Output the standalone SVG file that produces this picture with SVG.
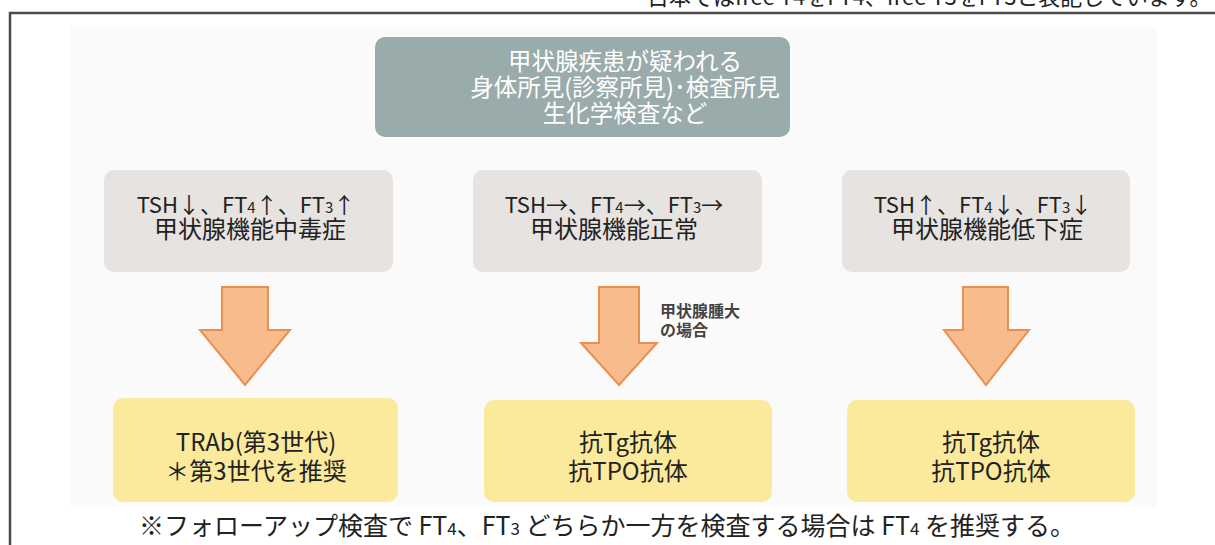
<svg xmlns="http://www.w3.org/2000/svg" width="1215" height="545" viewBox="0 0 1215 545">
<style>
text{font-family:"Noto Sans CJK JP","Noto Sans",sans-serif;}
.top{fill:#9aabab;}
.mid{fill:#e6e3e1;}
.bot{fill:#fbe99c;}
.tw{fill:#ffffff;font-size:23.5px;text-anchor:middle;}
.tk1{fill:#222222;font-size:22px;text-anchor:middle;}
.tk{fill:#222222;font-size:24px;text-anchor:middle;}
.tb{fill:#222222;font-size:24px;text-anchor:middle;}
.sub{font-size:15px;}
.arr{fill:#f8bb8c;stroke:#ea8f52;stroke-width:2;stroke-linejoin:miter;}
</style>
<rect x="0" y="0" width="1215" height="545" fill="#ffffff"/>
<text x="625" y="5" style="font-size:22px;fill:#222">・日本ではfree T4をFT4、free T3をFT3と表記しています。</text>
<path d="M10,545 V13 H1215" fill="none" stroke="#4a4a4a" stroke-width="2.5"/>
<rect x="70" y="27" width="1087" height="480" fill="#fafafa"/>
<g id="node-top">
<rect class="top" x="375" y="37" width="415" height="100" rx="10"/>
<text class="tw" x="625" y="70">甲状腺疾患が疑われる</text>
<text class="tw" x="625" y="96">身体所見(診察所見)･検査所見</text>
<text class="tw" x="625" y="122">生化学検査など</text>
</g>
<g id="node-hyper">
<rect class="mid" x="104" y="170" width="289" height="102" rx="10"/>
<text class="tk1" x="246" y="213">TSH↓、FT<tspan class="sub">4</tspan>↑、FT<tspan class="sub">3</tspan>↑</text>
<text class="tk" x="250" y="238">甲状腺機能中毒症</text>
</g>
<g id="node-normal">
<rect class="mid" x="473" y="170" width="289" height="102" rx="10"/>
<text class="tk1" x="614" y="213">TSH→、FT<tspan class="sub">4</tspan>→、FT<tspan class="sub">3</tspan>→</text>
<text class="tk" x="614" y="238">甲状腺機能正常</text>
</g>
<g id="node-hypo">
<rect class="mid" x="842" y="170" width="288" height="102" rx="10"/>
<text class="tk1" x="983" y="213">TSH↑、FT<tspan class="sub">4</tspan>↓、FT<tspan class="sub">3</tspan>↓</text>
<text class="tk" x="987" y="238">甲状腺機能低下症</text>
</g>
<g id="connectors">
<path class="arr" d="M222,287 H268 V330 H290 L245,385 L200,330 H222 Z"/>
<path class="arr" d="M599,287 H639 V343 H657 L619,385 L581,343 H599 Z"/>
<path class="arr" d="M963,287 H1008 V330 H1029 L986,385 L944,330 H963 Z"/>
<text x="660" y="317" style="font-size:16px;fill:#444;font-weight:bold">甲状腺腫大</text>
<text x="660" y="336" style="font-size:16px;fill:#444;font-weight:bold">の場合</text>
</g>
<g id="node-trab">
<rect class="bot" x="113" y="398" width="285" height="104" rx="10"/>
<text class="tb" x="256" y="451">TRAb(第3世代)</text>
<text class="tb" x="256" y="480">＊第3世代を推奨</text>
</g>
<g id="node-ab1">
<rect class="bot" x="484" y="400" width="288" height="102" rx="10"/>
<text class="tb" x="628" y="451">抗Tg抗体</text>
<text class="tb" x="628" y="480">抗TPO抗体</text>
</g>
<g id="node-ab2">
<rect class="bot" x="847" y="400" width="288" height="102" rx="10"/>
<text class="tb" x="991" y="451">抗Tg抗体</text>
<text class="tb" x="991" y="480">抗TPO抗体</text>
</g>
<text x="607" y="535" style="font-size:25px;fill:#222;text-anchor:middle">※フォローアップ検査で FT<tspan class="sub" style="font-size:17px">4</tspan>、FT<tspan class="sub" style="font-size:17px">3</tspan> どちらか一方を検査する場合は FT<tspan class="sub" style="font-size:17px">4</tspan> を推奨する。</text>
</svg>
